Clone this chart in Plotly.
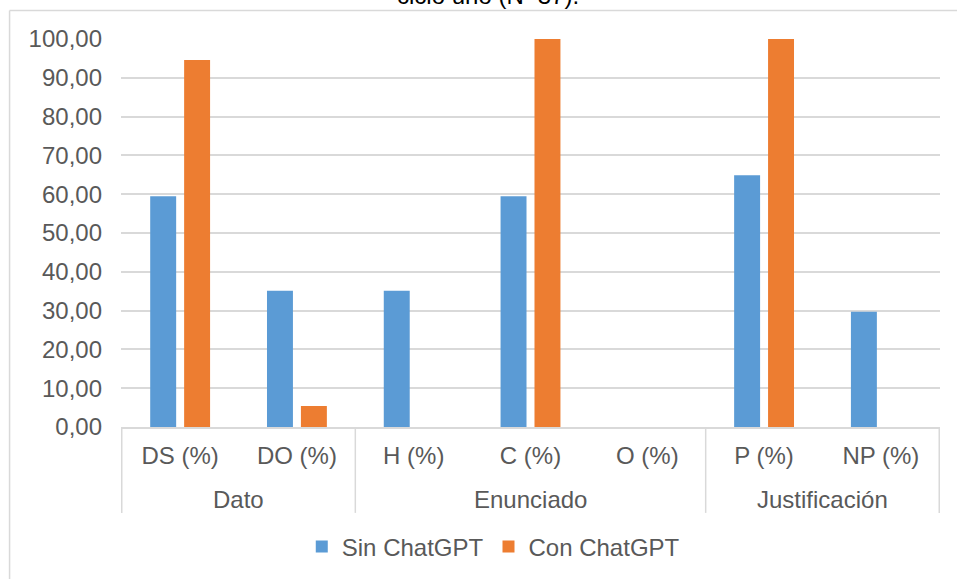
import plotly.graph_objects as go

categories = ["DS (%)", "DO (%)", "H (%)", "C (%)", "O (%)", "P (%)", "NP (%)"]
groups = ["Dato", "Enunciado", "Justificación"]
group_sizes = [2, 3, 2]
sin_chatgpt = [59.46, 35.14, 35.14, 59.46, 0.0, 64.86, 29.73]
con_chatgpt = [94.59, 5.41, 0.0, 100.0, 0.0, 100.0, 0.0]
series_names = ["Sin ChatGPT", "Con ChatGPT"]
title_text = "ciclo uno (N=37)."

FONT = "Arial, Liberation Sans, sans-serif"
TXT = "#595959"
GRID = "#D9D9D9"
FS = 24

# pixel geometry helpers
W, H = 957, 579
L, R, T, B = 120.5, 940, 38.5, 427
ph = B - T

def py(pix):
    return (B - pix) / ph

def px(pix):
    return (pix - L) / (R - L)

fig = go.Figure()
fig.add_trace(go.Bar(x=categories, y=sin_chatgpt, name=series_names[0],
                     marker=dict(color="#5B9BD5", line=dict(width=0))))
fig.add_trace(go.Bar(x=categories, y=con_chatgpt, name=series_names[1],
                     marker=dict(color="#ED7D31", line=dict(width=0))))

shapes = []
# group dividers
bounds = [-0.5]
for s in group_sizes:
    bounds.append(bounds[-1] + s)
for b in bounds:
    shapes.append(dict(type="line", xref="x", yref="paper", x0=b, x1=b,
                       y0=0, y1=py(513), line=dict(color=GRID, width=1.5), layer="above"))
# chart area border (top and left)
shapes.append(dict(type="line", xref="paper", yref="paper", x0=px(9), x1=px(975),
                   y0=py(10), y1=py(10), line=dict(color=GRID, width=1.5)))
shapes.append(dict(type="line", xref="paper", yref="paper", x0=px(9), x1=px(9),
                   y0=py(10), y1=py(600), line=dict(color=GRID, width=1.5)))

annotations = []
start = 0
for g, s in zip(groups, group_sizes):
    center = start + (s - 1) / 2
    annotations.append(dict(text=g, x=center, xref="x", y=py(500), yref="paper",
                            showarrow=False, yanchor="middle",
                            font=dict(family=FONT, size=FS, color=TXT)))
    start += s
annotations.append(dict(text=title_text, x=px(488), xref="paper", y=py(10), yref="paper",
                        showarrow=False, yanchor="bottom", xanchor="center",
                        font=dict(family=FONT, size=FS, color="#000000")))

fig.update_layout(
    width=W, height=H,
    margin=dict(l=L, r=W - R, t=T, b=H - B, pad=0, autoexpand=False),
    paper_bgcolor="white", plot_bgcolor="white",
    barmode="group", bargap=0.419, bargroupgap=0.235,
    separators=",.",
    font=dict(family=FONT, size=FS, color=TXT),
    showlegend=True,
    legend=dict(orientation="h", x=px(493), xanchor="center", y=py(547), yanchor="middle",
                font=dict(family=FONT, size=FS, color=TXT), itemwidth=30,
                bgcolor="rgba(0,0,0,0)"),
    shapes=shapes, annotations=annotations,
)
fig.update_yaxes(range=[0, 100], dtick=10, tickformat=".2f", showgrid=True,
                 gridcolor=GRID, gridwidth=1.5, zeroline=False, showline=False,
                 ticks="", ticklabelstandoff=18, automargin=False,
                 tickfont=dict(family=FONT, size=FS, color=TXT))
fig.update_xaxes(type="category", showgrid=False, showline=True, linecolor=GRID,
                 linewidth=1.5, ticks="", ticklabelstandoff=6, automargin=False,
                 tickfont=dict(family=FONT, size=FS, color=TXT))

fig.write_html("out.html", config={"displayModeBar": False},
               post_script="document.body.style.margin='0';document.body.style.overflow='hidden';")
